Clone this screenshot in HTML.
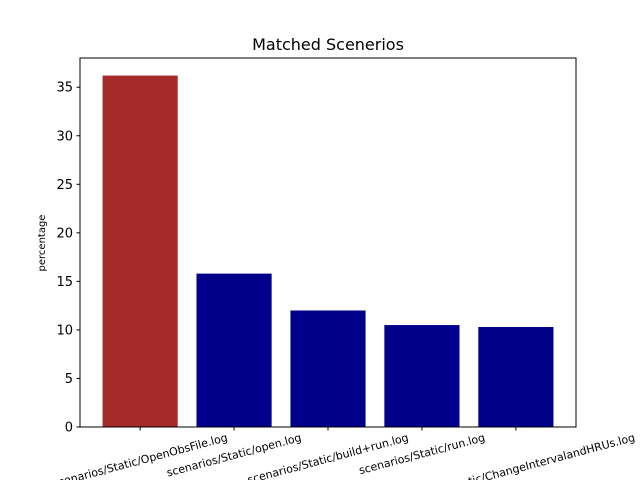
<!DOCTYPE html>
<html><head><meta charset="utf-8"><style>html,body{margin:0;background:#fff;width:640px;height:480px;overflow:hidden}svg{display:block;overflow:hidden}text{font-family:"DejaVu Sans","Liberation Sans",sans-serif}</style></head>
<body>
<svg id="c" width="640" height="480">
<rect width="640" height="480" fill="#fff"/>
<text x="328" y="50" text-anchor="middle" font-size="16">Matched Scenerios</text>
<text transform="translate(45,243) rotate(-90)" text-anchor="middle" font-size="10">percentage</text>
<g id="bars"></g><g id="yt"></g><g id="xt"></g>
<rect x="80" y="58" width="496" height="369" fill="none" stroke="#000" stroke-width="1"/>
</svg>
<script>
const categories=["scenarios/Static/OpenObsFile.log","scenarios/Static/open.log","scenarios/Static/build+run.log","scenarios/Static/run.log","scenarios/Static/ChangeIntervalandHRUs.log"];
const values=[36.2,15.8,12.0,10.5,10.3];
const colors=["#a52a2a","#00008b","#00008b","#00008b","#00008b"];
const yTicks=[0,5,10,15,20,25,30,35];
const NS="http://www.w3.org/2000/svg";
const L=80,R=576,T=58,B=427;
const ymax=Math.max(...values)*1.05;
const y=v=>B-(v/ymax)*(B-T);
const x0=-0.64,x1=categories.length-1+0.64;
const x=i=>L+(i-x0)/(x1-x0)*(R-L);
const bw=0.8*(R-L)/(x1-x0);
function mk(t,a,p){const e=document.createElementNS(NS,t);for(const k in a)e.setAttribute(k,a[k]);p.appendChild(e);return e;}
const gb=document.getElementById('bars'),gy=document.getElementById('yt'),gx=document.getElementById('xt');
values.forEach((v,i)=>{const r=mk('rect',{x:x(i)-bw/2,y:y(v),width:bw,height:B-y(v),fill:colors[i]},gb);

});
yTicks.forEach(t=>{const l=mk('line',{x1:L-3.5,x2:L,y1:y(t),y2:y(t),stroke:'#000'},gy);


const tx=mk('text',{x:L-7,y:y(t)+4.5,'text-anchor':'end','font-size':'13'},gy);tx.textContent=t;

});
categories.forEach((c,i)=>{const l=mk('line',{x1:x(i),x2:x(i),y1:B,y2:B+3.5,stroke:'#000'},gx);


const tx=mk('text',{x:x(i),y:0,'text-anchor':'middle','font-size':'11','dominant-baseline':'central'},gx);tx.textContent=c;


const len=tx.getComputedTextLength();const s=Math.sin(15*Math.PI/180),co=Math.cos(15*Math.PI/180);
const cy=B+5+(len*s+11*co)/2;tx.setAttribute('y',cy);tx.setAttribute('transform','rotate(-15,'+x(i)+','+cy+')');});
</script>
</body></html>
